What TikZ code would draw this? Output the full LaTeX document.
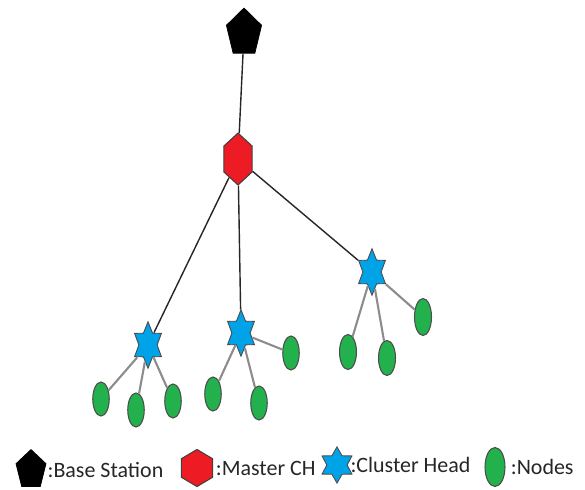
\documentclass[tikz,border=0pt]{standalone}
\usepackage{fontspec}
\setmainfont{Carlito}
\usepackage{tikz}
\usetikzlibrary{positioning,shapes.geometric}
\definecolor{chred}{RGB}{237,28,36}
\definecolor{chblue}{RGB}{0,162,232}
\definecolor{nodegreen}{RGB}{34,177,76}
\tikzstyle{station} = [regular polygon, regular polygon sides=5, fill=black, draw=black, inner sep=0pt, transform shape]
\tikzstyle{master} = [regular polygon, regular polygon sides=6, shape border rotate=30, fill=chred, draw=black!75, line width=0.6pt, inner sep=0pt, transform shape]
\tikzstyle{head} = [star, star points=6, star point ratio=1.7, fill=chblue, draw=black!70, line width=0.5pt, inner sep=0pt, transform shape]
\tikzstyle{sensor} = [ellipse, fill=nodegreen, draw=black!70, line width=0.6pt, inner sep=0pt]
\tikzstyle{uplink} = [draw=black!85, line width=0.8pt]
\tikzstyle{leaf} = [draw=black!45, line width=1.2pt]
\tikzstyle{legend} = [inner sep=0pt, font=\fontsize{12.5}{15}\selectfont, text=black!85]

\begin{document}
\begin{tikzpicture}[x=0.02cm, y=-0.02cm]
			\useasboundingbox (0,0) rectangle (585,490);
			\node[station, minimum size=0.74cm, yscale=1.35] (bs) at (244,33) {};
			\node[master, minimum size=0.65cm, yscale=1.6] (mch) at (238,159) {};
			\node[head, minimum size=0.62cm, yscale=1.5] (ch1) at (148,345) {};
			\node[head, minimum size=0.62cm, yscale=1.5] (ch2) at (241,333) {};
			\node[head, minimum size=0.62cm, yscale=1.5] (ch3) at (372,272) {};
			\node[sensor, minimum width=0.33cm, minimum height=0.68cm] (n11) at (101,399) {};
			\node[sensor, minimum width=0.33cm, minimum height=0.68cm] (n12) at (136,410) {};
			\node[sensor, minimum width=0.33cm, minimum height=0.68cm] (n13) at (173,401) {};
			\node[sensor, minimum width=0.33cm, minimum height=0.68cm] (n21) at (213,394) {};
			\node[sensor, minimum width=0.33cm, minimum height=0.68cm] (n22) at (259,403) {};
			\node[sensor, minimum width=0.33cm, minimum height=0.68cm] (n23) at (291,353) {};
			\node[sensor, minimum width=0.34cm, minimum height=0.70cm] (n31) at (348,352) {};
			\node[sensor, minimum width=0.34cm, minimum height=0.70cm] (n32) at (387,358) {};
			\node[sensor, minimum width=0.34cm, minimum height=0.74cm] (n33) at (423,317) {};
			\draw[uplink] (bs) -- (mch);
			\draw[uplink] (mch) -- (ch1);
			\draw[uplink] (mch) -- (ch2);
			\draw[uplink] (mch) -- (ch3);
			\foreach \c/\n in {ch1/n11, ch1/n12, ch1/n13, ch2/n21, ch2/n22, ch2/n23, ch3/n31, ch3/n32, ch3/n33}
				\draw[leaf] (\c) -- (\n);
			\node[station, minimum size=0.63cm, yscale=1.3] (lbs) at (31,470) {};
			\node[legend, right = 0.5mm of lbs] {:Base Station};
			\node[master, minimum size=0.72cm, yscale=1.03] (lmch) at (197,468) {};
			\node[legend, right = 0.5mm of lmch] {:Master CH};
			\node[head, minimum size=0.69cm, yscale=1.05] (lch) at (337,465) {};
			\node[legend, right = 0.5mm of lch] {:Cluster Head};
			\node[sensor, minimum width=0.40cm, minimum height=0.78cm] (lnode) at (495,467) {};
			\node[legend, right = 1mm of lnode] {:Nodes};
		\end{tikzpicture}
\end{document}
